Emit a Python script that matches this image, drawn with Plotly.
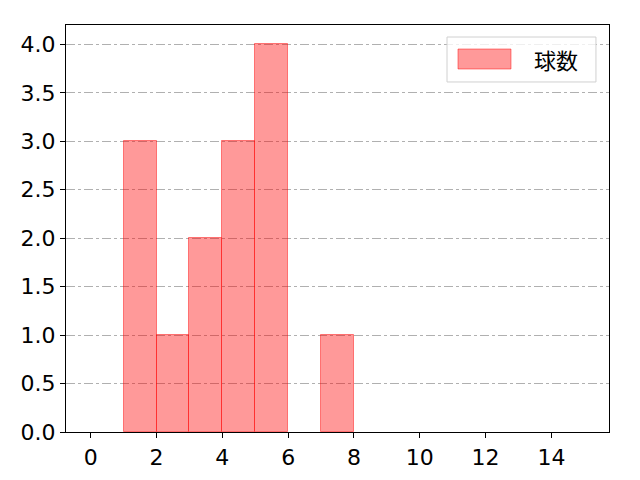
import plotly.graph_objects as go

# histogram bins (left edges) and counts
bin_left = [1, 2, 3, 4, 5, 6, 7]
counts = [3, 1, 2, 3, 4, 0, 1]
bin_width = 1
legend_label = "球数"
x_ticks = [0, 2, 4, 6, 8, 10, 12, 14]
y_ticks = [0.0, 0.5, 1.0, 1.5, 2.0, 2.5, 3.0, 3.5, 4.0]

CJK_FONT = "Noto Sans CJK JP, Noto Sans, DejaVu Sans"
NUM_FONT = "DejaVu Sans, Noto Sans CJK JP"
centres = [b + bin_width / 2 for b in bin_left]
# empty bins get no outline (matplotlib draws nothing visible there)
edge_widths = [1 if c > 0 else 0 for c in counts]

fig = go.Figure()
fig.add_trace(go.Bar(
    x=centres, y=counts, width=bin_width,
    marker=dict(color="rgba(255,0,0,0.4)",
                line=dict(color="rgba(255,0,0,0.45)", width=edge_widths)),
    name=legend_label, showlegend=False,
))

axis_common = dict(
    showline=True, linecolor="black", linewidth=1.2, mirror=True,
    ticks="outside", ticklen=5, tickcolor="black",
    tickfont=dict(size=22, color="black", family=NUM_FONT), zeroline=False,
)
fig.update_xaxes(range=[-0.75, 15.75], tickvals=x_ticks, showgrid=False, **axis_common)
fig.update_yaxes(range=[0, 4.2], tickvals=y_ticks, tickformat=".1f",
                 showgrid=True, gridcolor="#b0b0b0", griddash="dashdot", gridwidth=1,
                 **axis_common)

# matplotlib-style legend box
fig.add_shape(type="rect", xref="paper", yref="paper", x0=0.7017, x1=0.976, y0=0.860, y1=0.9705,
              line=dict(color="#d0d0d0", width=1), fillcolor="rgba(255,255,255,0.8)", layer="above")
fig.add_shape(type="rect", xref="paper", yref="paper", x0=0.7219, x1=0.8195, y0=0.8919, y1=0.941,
              line=dict(color="rgba(255,0,0,0.45)", width=1), fillcolor="rgba(255,0,0,0.4)", layer="above")
fig.add_annotation(xref="paper", yref="paper", x=0.858, y=0.9165, text=legend_label,
                   showarrow=False, xanchor="left", yanchor="middle",
                   font=dict(size=22, color="black", family=CJK_FONT))

fig.update_layout(
    width=640, height=480,
    margin=dict(l=58, r=39, t=17, b=56),
    paper_bgcolor="white", plot_bgcolor="white",
    font=dict(family=CJK_FONT),
    bargap=0,
)
fig.write_html("out.html")
